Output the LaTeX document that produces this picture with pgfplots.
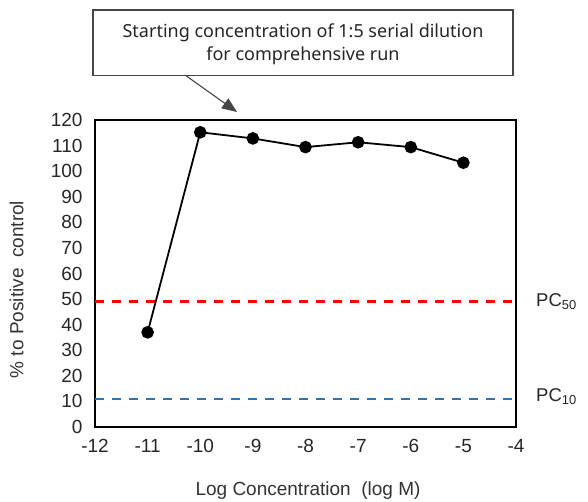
\documentclass[border=0pt]{standalone}
\usepackage{fontspec}
\setmainfont{Liberation Sans}
\newfontfamily\notefont{Noto Sans}
\usepackage{pgfplots}
\pgfplotsset{compat=1.18}
\usetikzlibrary{arrows.meta}
\definecolor{pcblue}{RGB}{46,117,182}
\definecolor{boxgray}{RGB}{70,70,70}

\begin{document}
\begin{tikzpicture}
\path[use as bounding box] (0,0) rectangle (588pt,501pt);
\begin{axis}[
  at={(95pt,74pt)}, anchor=south west,
  scale only axis, width=421pt, height=307pt,
  xmin=-12, xmax=-4, ymin=0, ymax=120,
  xtick={-12,-11,...,-4}, ytick={0,10,...,120},
  major tick length=0pt,
  axis line style={black, line width=1.1pt},
  /pgf/number format/assume math mode=true,
  tick label style={font=\fontsize{19}{20}\selectfont, text=black!85},
  xticklabel style={yshift=-9pt},
  yticklabel style={xshift=-9pt},
  xlabel={Log Concentration\ \ (log M)},
  ylabel={\% to Positive\ \ control},
  label style={font=\fontsize{19}{21}\selectfont, text=black!80},
  xlabel style={at={(axis description cs:0.506,-0.207)}, anchor=center},
  ylabel style={at={(axis description cs:-0.186,0.448)}, anchor=center, rotate=0},
  clip=false,
]
% PC50 and PC10 reference levels
\addplot[red, line width=2.3pt, dash pattern=on 9pt off 8pt] coordinates {(-12,49) (-4,49)};
\addplot[pcblue, line width=2.3pt, dash pattern=on 9pt off 8pt] coordinates {(-12,11) (-4,11)};
% measured response
\addplot[black, line width=1.8pt, mark=*, mark size=5.4pt, mark options={fill=black}]
  coordinates {(-11,37) (-10,115.2) (-9,112.8) (-8,109.4) (-7,111.3) (-6,109.4) (-5,103.3)};
\node[anchor=west, font=\fontsize{18.5}{20}\selectfont, text=black!85, inner sep=0pt]
  at ([xshift=20pt]axis cs:-4,49) {PC\textsubscript{50}};
\node[anchor=west, font=\fontsize{18.5}{20}\selectfont, text=black!85, inner sep=0pt]
  at ([xshift=20pt,yshift=2pt]axis cs:-4,11) {PC\textsubscript{10}};
\end{axis}
% annotation box with arrow
\draw[boxgray, line width=1.1pt, fill=white] (93pt,425.5pt) rectangle (513pt,491pt);
\node[font=\notefont\fontsize{18}{23}\selectfont, align=center, text=black!85] at (303pt,457pt)
  {Starting concentration of 1:5 serial dilution\\for comprehensive run};
\draw[boxgray, line width=1.1pt, -{Triangle[length=15pt,width=12pt]}] (185pt,426pt) -- (237pt,389pt);
\end{tikzpicture}
\end{document}
